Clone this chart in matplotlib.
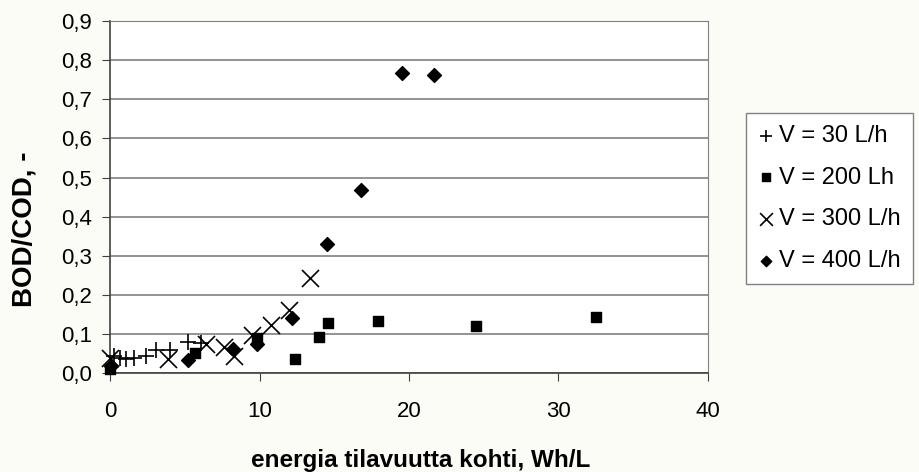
import matplotlib.pyplot as plt
from matplotlib.ticker import FuncFormatter

plt.rcParams['font.family'] = ['Liberation Sans', 'DejaVu Sans']

# V = 30 L/h
x30 = [0.3, 0.7, 1.1, 1.6, 2.4, 3.1, 4.0, 5.2, 6.1]
y30 = [0.045, 0.040, 0.038, 0.040, 0.044, 0.060, 0.060, 0.080, 0.078]
# V = 200 Lh
x200 = [0.0, 5.7, 9.8, 12.4, 14.0, 14.6, 17.9, 24.5, 32.5]
y200 = [0.012, 0.052, 0.090, 0.036, 0.092, 0.129, 0.133, 0.122, 0.143]
# V = 300 L/h
x300 = [0.0, 3.9, 6.4, 7.6, 8.3, 9.5, 10.8, 12.0, 13.4]
y300 = [0.040, 0.036, 0.076, 0.068, 0.044, 0.098, 0.124, 0.163, 0.243]
# V = 400 L/h
x400 = [0.1, 5.2, 8.2, 9.8, 12.2, 14.5, 16.8, 19.5, 21.7]
y400 = [0.020, 0.034, 0.062, 0.076, 0.141, 0.330, 0.467, 0.767, 0.762]

labels = ['V = 30 L/h', 'V = 200 Lh', 'V = 300 L/h', 'V = 400 L/h']

fig = plt.figure(figsize=(9.19, 4.72), dpi=100, facecolor='#FCFCF7')
ax = fig.add_axes([0.1197, 0.2087, 0.6507, 0.7474], facecolor='white')

ax.scatter(x30, y30, marker='+', s=130, c='black', linewidths=1.2, label=labels[0], zorder=3, clip_on=False)
ax.scatter(x200, y200, marker='s', s=55, c='black', label=labels[1], zorder=3, clip_on=False)
ax.scatter(x300, y300, marker='x', s=150, c='black', linewidths=1.2, label=labels[2], zorder=3, clip_on=False)
ax.scatter(x400, y400, marker='D', s=50, c='black', label=labels[3], zorder=3, clip_on=False)

ax.set_xlim(0, 40)
ax.set_ylim(0, 0.9)
ax.set_xticks(range(0, 41, 10))
ax.set_yticks([i / 10 for i in range(10)])
ax.yaxis.set_major_formatter(FuncFormatter(lambda v, p: ('%.1f' % v).replace('.', ',')))
ax.grid(axis='y', color='#808080', linewidth=1.2)
ax.set_axisbelow(True)

for s in ['top', 'right']:
    ax.spines[s].set_color('#808080')
for s in ['left', 'bottom']:
    ax.spines[s].set_color('#404040')
    ax.spines[s].set_linewidth(1.2)
ax.tick_params(direction='out', length=5.8, labelsize=16, colors='#404040', labelcolor='black')
ax.tick_params(axis='y', pad=7)
ax.tick_params(axis='x', pad=14)

ax.set_xlabel('energia tilavuutta kohti, Wh/L', fontsize=17.5, fontweight='bold')
ax.set_ylabel('BOD/COD, -', fontsize=20, fontweight='bold')
ax.xaxis.set_label_coords(0.52, -0.214)
ax.yaxis.set_label_coords(-0.122, 0.41)

leg = fig.legend(loc='upper left', bbox_to_anchor=(0.8118, 0.7606), fontsize=17,
                 frameon=True, fancybox=False, edgecolor='#808080', facecolor='white',
                 framealpha=1, handlelength=0.7, handletextpad=0.2, labelspacing=0.84,
                 borderpad=0.5, borderaxespad=0, scatterpoints=1, markerscale=0.75)
leg.get_frame().set_linewidth(1.0)

fig.savefig('out.png', dpi=100, facecolor=fig.get_facecolor())
